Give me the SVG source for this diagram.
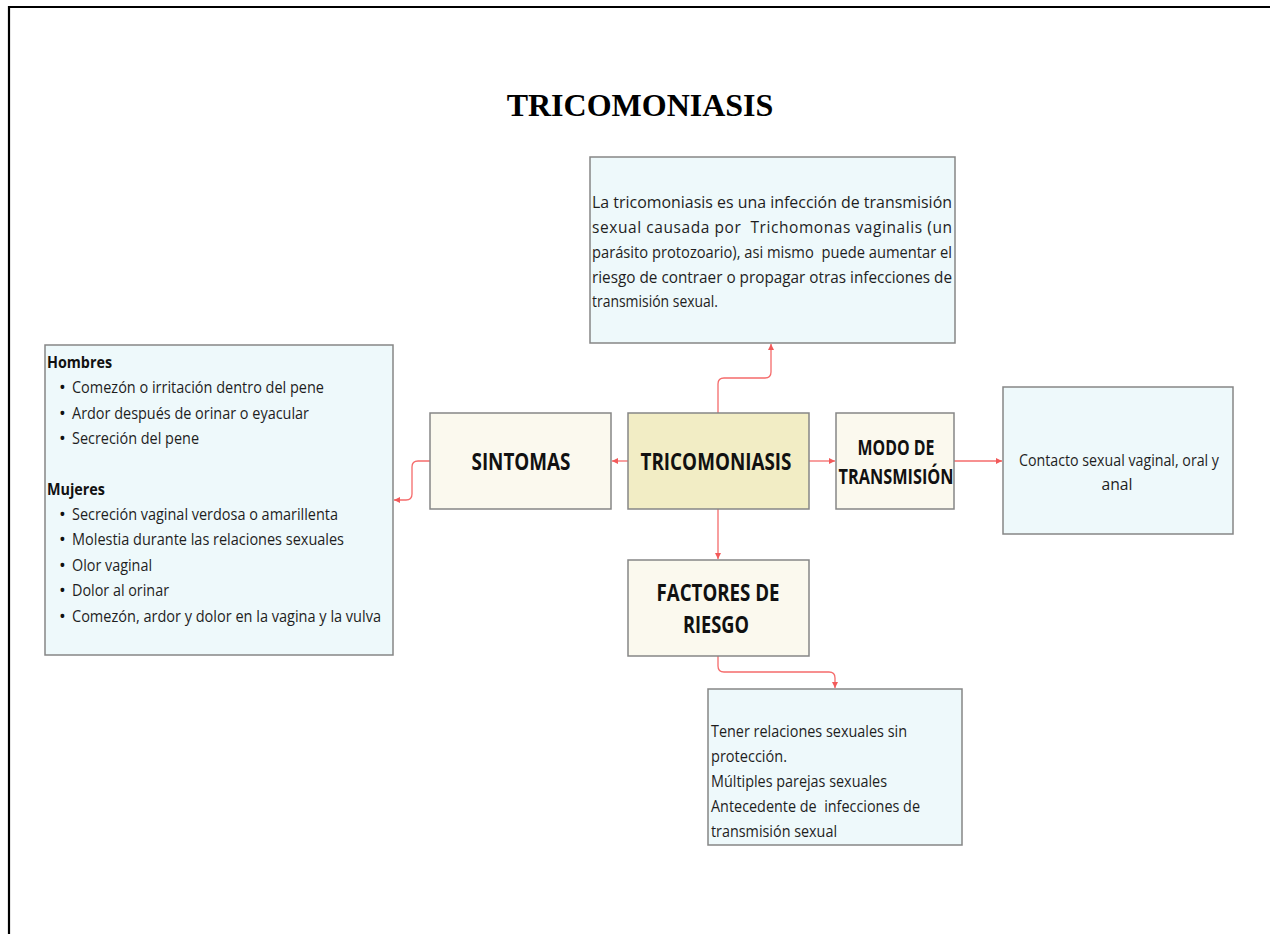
<svg xmlns="http://www.w3.org/2000/svg" width="1270" height="934" viewBox="0 0 1270 934">
<defs>
<marker id="arr" markerUnits="userSpaceOnUse" markerWidth="7" markerHeight="7" refX="6" refY="3" orient="auto">
<path d="M0,0 L6,3 L0,6 z" fill="#f25a5a"/>
</marker>
<style>
.info{fill:#eef9fb;stroke:#868686;stroke-width:1.5}
.cat{fill:#fbf9ee;stroke:#868686;stroke-width:1.5}
.main{fill:#f2edc5;stroke:#868686;stroke-width:1.5}
.lbl{font-family:"Open Sans","Noto Sans",sans-serif;font-weight:700;fill:#111;text-anchor:middle}
.body{font-family:"Open Sans","Noto Sans",sans-serif;font-size:15.5px;fill:#1e1e1e}
.list{font-family:"Open Sans","Noto Sans",sans-serif;font-size:16px;fill:#1e1e1e}
.bul{font-family:"Open Sans","Noto Sans",sans-serif;font-size:18px;fill:#111}
.hd{font-family:"Open Sans","Noto Sans",sans-serif;font-size:16px;font-weight:700;fill:#111}
.con{fill:none;stroke:#f56b6b;stroke-width:1.3;marker-end:url(#arr)}
</style>
</defs>
<rect width="1270" height="934" fill="#ffffff"/>
<path d="M9,934 V7 H1270" fill="none" stroke="#000" stroke-width="2.2"/>
<text x="640" y="116" font-family="'Liberation Serif','Times New Roman',serif" font-weight="700" font-size="32" text-anchor="middle" fill="#000">TRICOMONIASIS</text>

<g id="connectors">
<path class="con" d="M718,413 V384 Q718,378 724,378 H765 Q771,378 771,372 V344"/>
<path class="con" d="M628,461 H612"/>
<path class="con" d="M809,461 H835"/>
<path class="con" d="M954,461 H1002"/>
<path class="con" d="M430,461 H418 Q412,461 412,467 V494 Q412,500 406,500 H394"/>
<path class="con" d="M718,509 V559"/>
<path class="con" d="M718,656 V666 Q718,672 724,672 H829 Q835,672 835,678 V688"/>
</g>

<g id="descripcion">
<rect class="info" x="590" y="157" width="365" height="186"/>
<text class="body" x="592" y="208" textLength="360" lengthAdjust="spacingAndGlyphs">La tricomoniasis es una infección de transmisión</text>
<text class="body" x="592" y="233" textLength="360" lengthAdjust="spacing" xml:space="preserve">sexual causada por  Trichomonas vaginalis (un</text>
<text class="body" x="592" y="258" textLength="360" lengthAdjust="spacingAndGlyphs" xml:space="preserve">parásito protozoario), asi mismo  puede aumentar el</text>
<text class="body" x="592" y="283" textLength="360" lengthAdjust="spacingAndGlyphs">riesgo de contraer o propagar otras infecciones de</text>
<text class="body" x="592" y="307" textLength="126" lengthAdjust="spacingAndGlyphs">transmisión sexual.</text>
</g>

<g id="sintomas-detalle">
<rect class="info" x="45" y="345" width="348" height="310"/>
<text class="hd" x="47" y="368" textLength="65" lengthAdjust="spacingAndGlyphs">Hombres</text>
<text class="bul" x="59" y="394">•</text>
<text class="list" x="72" y="393" textLength="252" lengthAdjust="spacingAndGlyphs">Comezón o irritación dentro del pene</text>
<text class="bul" x="59" y="420">•</text>
<text class="list" x="72" y="419" textLength="237" lengthAdjust="spacingAndGlyphs">Ardor después de orinar o eyacular</text>
<text class="bul" x="59" y="445">•</text>
<text class="list" x="72" y="444" textLength="127" lengthAdjust="spacingAndGlyphs">Secreción del pene</text>
<text class="hd" x="47" y="495" textLength="58" lengthAdjust="spacingAndGlyphs">Mujeres</text>
<text class="bul" x="59" y="521">•</text>
<text class="list" x="72" y="520" textLength="266" lengthAdjust="spacingAndGlyphs">Secreción vaginal verdosa o amarillenta</text>
<text class="bul" x="59" y="546">•</text>
<text class="list" x="72" y="545" textLength="272" lengthAdjust="spacingAndGlyphs">Molestia durante las relaciones sexuales</text>
<text class="bul" x="59" y="572">•</text>
<text class="list" x="72" y="571" textLength="80" lengthAdjust="spacingAndGlyphs">Olor vaginal</text>
<text class="bul" x="59" y="597">•</text>
<text class="list" x="72" y="596" textLength="97" lengthAdjust="spacingAndGlyphs">Dolor al orinar</text>
<text class="bul" x="59" y="623">•</text>
<text class="list" x="72" y="622" textLength="309" lengthAdjust="spacingAndGlyphs">Comezón, ardor y dolor en la vagina y la vulva</text>
</g>

<g id="sintomas">
<rect class="cat" x="430" y="413" width="181" height="96"/>
<text class="lbl" x="521" y="470" font-size="24" textLength="99" lengthAdjust="spacingAndGlyphs">SINTOMAS</text>
</g>

<g id="tricomoniasis">
<rect class="main" x="628" y="413" width="181" height="96"/>
<text class="lbl" x="716" y="470" font-size="24" textLength="151" lengthAdjust="spacingAndGlyphs">TRICOMONIASIS</text>
</g>

<g id="modo">
<rect class="cat" x="836" y="413" width="118" height="96"/>
<text class="lbl" x="896" y="455" font-size="22" textLength="77" lengthAdjust="spacingAndGlyphs">MODO DE</text>
<text class="lbl" x="896" y="484" font-size="22" textLength="115" lengthAdjust="spacingAndGlyphs">TRANSMISIÓN</text>
</g>

<g id="contacto">
<rect class="info" x="1003" y="387" width="230" height="147"/>
<text class="list" x="1119" y="466" text-anchor="middle" textLength="200" lengthAdjust="spacingAndGlyphs">Contacto sexual vaginal, oral y</text>
<text class="list" x="1117" y="490" text-anchor="middle" textLength="31" lengthAdjust="spacingAndGlyphs">anal</text>
</g>

<g id="factores">
<rect class="cat" x="628" y="560" width="181" height="96"/>
<text class="lbl" x="718" y="601" font-size="23" textLength="123" lengthAdjust="spacingAndGlyphs">FACTORES DE</text>
<text class="lbl" x="716" y="633" font-size="23" textLength="66" lengthAdjust="spacingAndGlyphs">RIESGO</text>
</g>

<g id="factores-detalle">
<rect class="info" x="708" y="689" width="254" height="156"/>
<text class="list" x="711" y="737" textLength="196" lengthAdjust="spacingAndGlyphs">Tener relaciones sexuales sin</text>
<text class="list" x="711" y="762" textLength="76" lengthAdjust="spacingAndGlyphs">protección.</text>
<text class="list" x="711" y="787" textLength="176" lengthAdjust="spacingAndGlyphs">Múltiples parejas sexuales</text>
<text class="list" x="711" y="812" textLength="209" lengthAdjust="spacingAndGlyphs" xml:space="preserve">Antecedente de  infecciones de</text>
<text class="list" x="711" y="837" textLength="126" lengthAdjust="spacingAndGlyphs">transmisión sexual</text>
</g>
</svg>
